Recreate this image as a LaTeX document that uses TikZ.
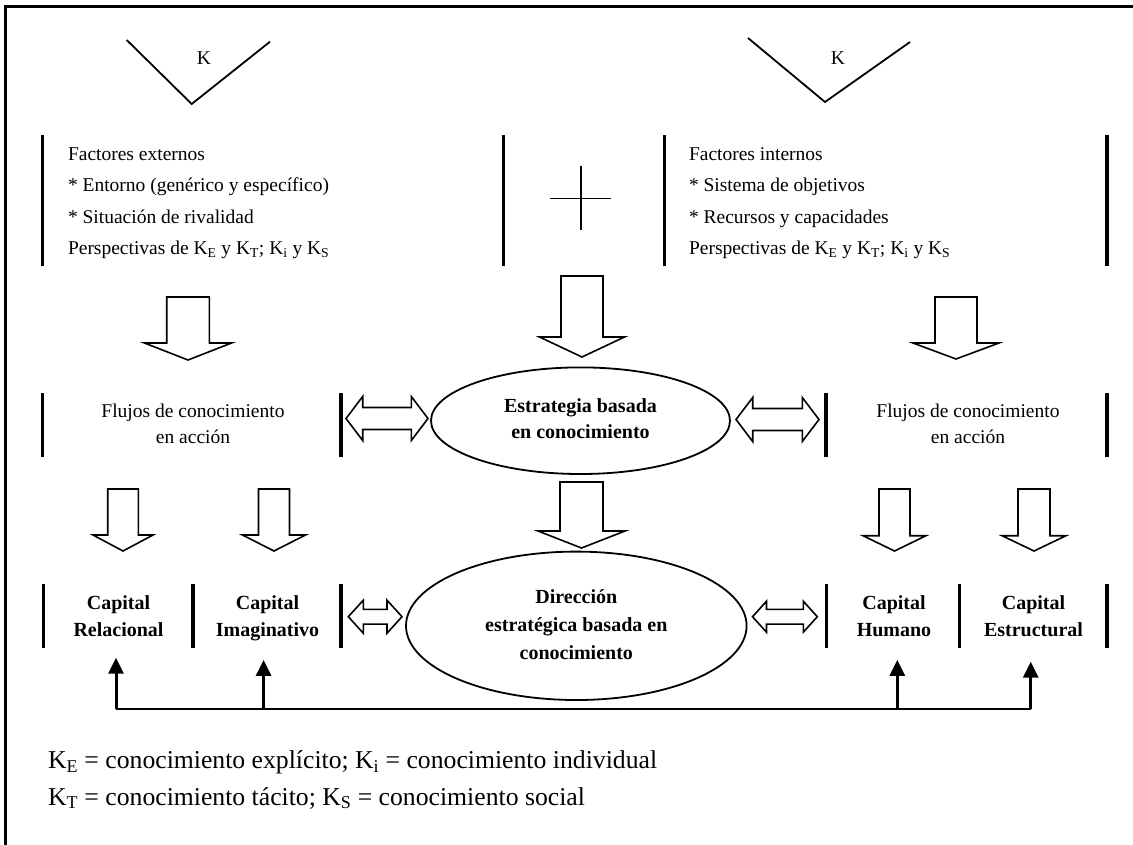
\documentclass[tikz,border=0pt]{standalone}
\usepackage{fontspec}
\setmainfont{Liberation Serif}
\usetikzlibrary{arrows.meta,shapes.geometric}

% hollow block arrow pointing down: centre x, shaft half width, head half width, top, head base, tip
\newcommand\downblock[6]{%
  \draw[block] (#1-#2,#4) -- (#1+#2,#4) -- (#1+#2,#5) -- (#1+#3,#5) -- (#1,#6)
    -- (#1-#3,#5) -- (#1-#2,#5) -- cycle;}
% hollow two-headed block arrow: left tip, right tip, centre y, head length, head half height, shaft half height
\newcommand\twinarrow[6]{%
  \draw[block] (#1,#3) -- (#1+#4,#3-#5) -- (#1+#4,#3-#6) -- (#2-#4,#3-#6) -- (#2-#4,#3-#5)
    -- (#2,#3) -- (#2-#4,#3+#5) -- (#2-#4,#3+#6) -- (#1+#4,#3+#6) -- (#1+#4,#3+#5) -- cycle;}

\tikzset{
  every node/.style={inner sep=0pt, outer sep=0pt},
  frame/.style={line width=3.3pt, line join=miter},
  vee/.style={line width=1.8pt, line join=miter},
  cross/.style={line width=1.6pt},
  bar/.style={line width=3.3pt},
  block/.style={line width=1.6pt, line join=miter, fill=white},
  bubble/.style={ellipse, draw, line width=1.8pt, align=center,
    font=\bfseries\fontsize{20}{26}\selectfont},
  plain/.style={font=\fontsize{19.5}{26}\selectfont, align=center},
  capital/.style={font=\bfseries\fontsize{20}{27.4}\selectfont, align=center},
  factors/.style={font=\fontsize{19.5}{31.5}\selectfont, align=left, anchor=west},
  legend/.style={font=\fontsize{25.7}{36.7}\selectfont, align=left, anchor=west},
  feed/.style={line width=2pt},
  rise/.style={line width=3pt, -{Triangle[length=16pt,width=15pt]}},
}

\begin{document}
\begin{tikzpicture}[x=1pt,y=-1pt]
\useasboundingbox (0,0) rectangle (1133,844);

% frame (top and left edges)
\draw[frame] (5.8,850) -- (5.8,6.7) -- (1140,6.7);

% the two "K" wedges
\draw[vee] (126.7,40) -- (191.7,104) -- (270,41.7);
\node[plain] (kleft) at (204,58) {K};
\draw[vee] (748,38) -- (825,102) -- (910,42);
\node[plain] (kright) at (838,58) {K};

% first row: external factors, plus sign, internal factors
\foreach \x in {42.7,503.3,664.5,1107} \draw[bar] (\x,135) -- (\x,266);
\node[factors] (external) at (68,201) {\strut Factores externos\\
  \strut * Entorno (genérico y específico)\\
  \strut * Situación de rivalidad\\
  \strut Perspectivas de K\textsubscript{E} y K\textsubscript{T}; K\textsubscript{i} y K\textsubscript{S}};
\draw[cross] (550,198.3) -- (611,198.3) (580.7,165.7) -- (580.7,230);
\node[factors] (internal) at (689,201) {\strut Factores internos\\
  \strut * Sistema de objetivos\\
  \strut * Recursos y capacidades\\
  \strut Perspectivas de K\textsubscript{E} y K\textsubscript{T}; K\textsubscript{i} y K\textsubscript{S}};

% arrows down to the second row
\downblock{188}{21.3}{43.5}{297}{343}{360}
\downblock{582}{21}{42.5}{276}{337}{357}
\downblock{956}{21}{43}{297}{343}{359}

% second row
\foreach \x in {42.7,341,826,1107} \draw[bar] (\x,393.3) -- (\x,456.7);
\node[plain] (flowleft) at (193,425.3) {\strut Flujos de conocimiento\\\strut en acción};
\node[plain] (flowright) at (968,425.3) {\strut Flujos de conocimiento\\\strut en acción};
\node[bubble, minimum width=299pt, minimum height=106.6pt] (strategy) at (580.5,420.7)
  {\strut Estrategia basada\\\strut en conocimiento};
\twinarrow{346}{428}{418.5}{16.7}{22}{11}
\twinarrow{736}{819}{419.5}{16.7}{22}{11}

% arrows down to the third row
\downblock{123}{15.3}{30}{489}{535}{551}
\downblock{274}{15.5}{31.5}{489}{535}{551}
\downblock{581.5}{21.5}{43.5}{482}{531}{548}
\downblock{894.5}{15.5}{31.5}{489}{535.7}{551}
\downblock{1034}{16}{32}{489}{535.7}{551}

% third row: the four capitals and strategic management
\foreach \x in {43.6,192.9,341,826.4,959.3,1107} \draw[bar] (\x,584.3) -- (\x,648.3);
\node[capital] (relational) at (118.5,617.5) {\strut Capital\\\strut Relacional};
\node[capital] (imaginative) at (267.5,617.5) {\strut Capital\\\strut Imaginativo};
\node[capital] (human) at (894,617.5) {\strut Capital\\\strut Humano};
\node[capital] (structural) at (1033.5,617.5) {\strut Capital\\\strut Estructural};
\node[bubble, minimum width=340.6pt, minimum height=148.4pt,
  font=\bfseries\fontsize{20}{27.7}\selectfont] (management) at (576.3,625.8)
  {\strut Dirección\\\strut estratégica basada en\\\strut conocimiento};
\twinarrow{348.3}{402}{616.7}{15}{16.5}{7.4}
\twinarrow{752.5}{817.3}{616.7}{14}{15.5}{7.4}

% feedback line under the capitals
\coordinate (bus1) at (116,709);
\coordinate (bus2) at (263.6,709);
\coordinate (bus3) at (897.3,709);
\coordinate (bus4) at (1030.7,709);
\draw[feed] (bus1) -- (bus4);
\draw[rise, shorten >=12.8pt] (bus1) -- (bus1 |- relational.south);
\draw[rise, shorten >=15pt] (bus2) -- (bus2 |- imaginative.south);
\draw[rise, shorten >=15pt] (bus3) -- (bus3 |- human.south);
\draw[rise, shorten >=16.8pt] (bus4) -- (bus4 |- structural.south);

% key to the symbols
\node[legend] (keys) at (48,779.3) {\strut K\textsubscript{E} = conocimiento explícito; K\textsubscript{i} = conocimiento individual\\
  \strut K\textsubscript{T} = conocimiento tácito; K\textsubscript{S} = conocimiento social};
\end{tikzpicture}
\end{document}
